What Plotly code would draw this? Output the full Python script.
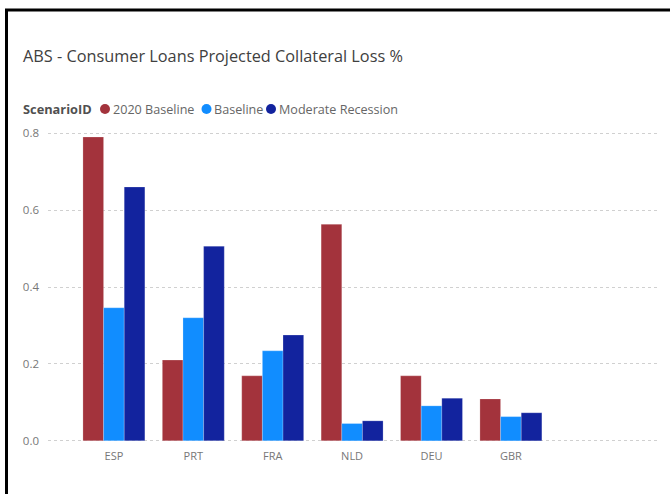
import plotly.graph_objects as go

# data
countries = ['ESP', 'PRT', 'FRA', 'NLD', 'DEU', 'GBR']
baseline_2020 = [0.790, 0.210, 0.169, 0.563, 0.169, 0.109]
baseline = [0.346, 0.320, 0.234, 0.045, 0.091, 0.063]
moderate_recession = [0.660, 0.506, 0.275, 0.052, 0.111, 0.073]
y_ticks = [0.0, 0.2, 0.4, 0.6, 0.8]
y_tick_labels = ['0.0', '0.2', '0.4', '0.6', '0.8']

series = [
    ('2020 Baseline', baseline_2020, '#A3333C'),
    ('Baseline', baseline, '#118DFF'),
    ('Moderate Recession', moderate_recession, '#12239E'),
]

W, H = 670, 494
m_l, m_r, m_t, m_b = 48, 13, 132, 52
pw, ph = W - m_l - m_r, H - m_t - m_b


def px_x(x):
    return (x - m_l) / pw


def px_y(y):
    return (H - m_b - y) / ph


fig = go.Figure()
for name, vals, color in series:
    fig.add_trace(go.Bar(
        x=countries, y=vals, name=name,
        marker=dict(color=color, line=dict(color='rgba(255,255,255,0.35)', width=0.6)),
        showlegend=False,
    ))

font = 'Open Sans, Noto Sans, sans-serif'

# title
fig.add_annotation(
    x=px_x(21), y=px_y(56), xref='paper', yref='paper',
    xanchor='left', yanchor='middle', showarrow=False,
    text='ABS - Consumer Loans Projected Collateral Loss %',
    font=dict(family=font, size=16.3, color='#404040'),
)

# legend header in the Power BI style: bold field name, then dot + label
legend_y = 109
fig.add_annotation(
    x=px_x(21), y=px_y(legend_y), xref='paper', yref='paper',
    xanchor='left', yanchor='middle', showarrow=False,
    text='<b>ScenarioID</b>', font=dict(family=font, size=12.8, color='#505050'),
)
dot_x = [105, 206.5, 271]
label_x = [110.5, 212, 276.5]
for (name, vals, color), dx, lx in zip(series, dot_x, label_x):
    fig.add_shape(type='circle', xref='paper', yref='paper',
                  x0=px_x(dx - 5), x1=px_x(dx + 5),
                  y0=px_y(legend_y - 5), y1=px_y(legend_y + 5),
                  fillcolor=color, line=dict(width=0))
    fig.add_annotation(
        x=px_x(lx), y=px_y(legend_y), xref='paper', yref='paper',
        xanchor='left', yanchor='middle', showarrow=False,
        text=name, font=dict(family=font, size=12.6, color='#666666'),
    )

# black frame on the left and top edges
fig.add_shape(type='line', xref='paper', yref='paper',
              x0=px_x(6.5), x1=px_x(6.5), y0=px_y(9), y1=px_y(H + 5),
              line=dict(color='black', width=3))
fig.add_shape(type='line', xref='paper', yref='paper',
              x0=px_x(5), x1=px_x(W + 5), y0=px_y(10), y1=px_y(10),
              line=dict(color='black', width=3))

fig.update_layout(
    width=W, height=H,
    margin=dict(l=m_l, r=m_r, t=m_t, b=m_b),
    paper_bgcolor='white', plot_bgcolor='white',
    barmode='group', bargap=0.22, bargroupgap=0,
    font=dict(family=font),
)
fig.update_xaxes(
    range=[-0.83, 6.84], showgrid=False, zeroline=False, showline=False,
    tickfont=dict(size=11, color='#777777'), ticks='', ticklabelstandoff=6,
)
fig.update_yaxes(
    range=[-0.003, 0.803], tickvals=y_ticks, ticktext=y_tick_labels,
    showgrid=True, gridcolor='#D0D0D0', griddash='dot', gridwidth=1,
    zeroline=False, showline=False, ticks='',
    tickfont=dict(size=11.5, color='#777777'), ticklabelstandoff=8,
)

fig.write_html('out.html', config={'displayModeBar': False},
               post_script="document.body.style.margin='0';")
